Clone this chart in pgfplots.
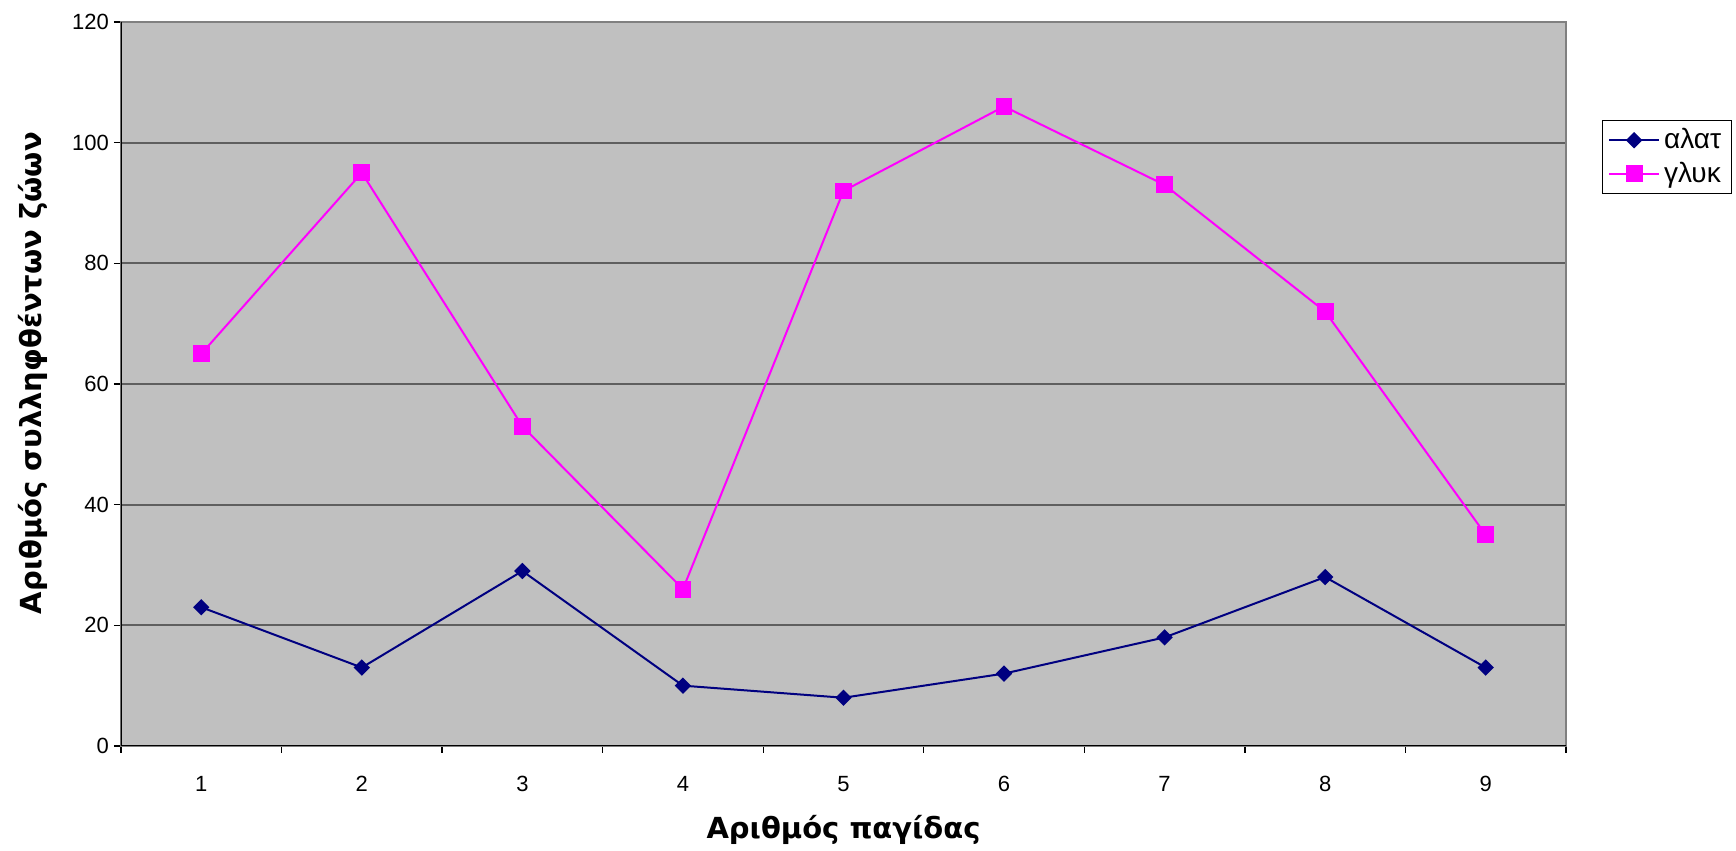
\documentclass[border=0pt]{standalone}
\usepackage{pgfplots}
\pgfplotsset{compat=1.18}
\usepackage{fontspec}
\setmainfont{Liberation Sans}
\newfontfamily\labelfont{DejaVu Sans}

\definecolor{plotbg}{RGB}{192,192,192}
\definecolor{navyline}{RGB}{0,0,128}
\definecolor{magline}{RGB}{255,0,255}
\definecolor{gridgray}{RGB}{95,95,95}
\definecolor{framegray}{RGB}{128,128,128}

\begin{document}
\begin{tikzpicture}[x=1pt,y=1pt]
\useasboundingbox (-60.5,-52.5) rectangle (807.5,373);
\begin{axis}[
  at={(0,0)}, anchor=south west,
  scale only axis, width=722.5pt, height=362pt,
  xmin=0.5, xmax=9.5, ymin=0, ymax=120,
  xtick={1,...,9},
  minor xtick={0.5,1.5,...,9.5},
  major x tick style={draw=none},
  minor x tick style={black, line width=0.7pt},
  ytick={0,20,...,120},
  y tick style={black, line width=0.7pt},
  tick pos=left,
  tick align=outside,
  major tick length=3.5pt, minor tick length=3.5pt,
  ymajorgrids,
  grid style={gridgray, line width=0.9pt},
  axis line style={framegray, line width=1pt},
  axis background/.style={fill=plotbg},
  /pgf/number format/assume math mode=true,
  ticklabel style={font=\fontsize{11}{13}\selectfont, black},
  xticklabel style={yshift=-8pt},
  yticklabel style={xshift=1pt},
  xlabel={\labelfont\bfseries Αριθμός παγίδας},
  ylabel={\labelfont\bfseries Αριθμός συλληφθέντων ζώων},
  xlabel style={at={(axis description cs:0.5,-0.116)}, anchor=center,
    font=\fontsize{14.5}{17}\selectfont},
  ylabel style={at={(axis description cs:-0.0609,0.515)}, anchor=center,
    font=\fontsize{14.5}{17}\selectfont},
  legend style={at={(1.0246,0.8646)}, anchor=north west, draw=black,
    line width=0.6pt, fill=white,
    font=\fontsize{14}{16}\selectfont,
    inner xsep=3pt, inner ysep=2pt, row sep=1pt},
  legend cell align=left,
  legend image code/.code={%
    \draw[#1, mark repeat=2, mark phase=2]
      plot coordinates {(0pt,0pt) (12.5pt,0pt) (25pt,0pt)};},
]
\addplot[navyline, line width=1pt, mark=square*, mark size=2.4pt,
  mark options={solid, rotate=45}]
  coordinates {(1,23) (2,13) (3,29) (4,10) (5,8) (6,12) (7,18) (8,28) (9,13)};
\addlegendentry{αλατ}
\addplot[magline, line width=1pt, mark=square*, mark size=3.7pt,
  mark options={solid}]
  coordinates {(1,65) (2,95) (3,53) (4,26) (5,92) (6,106) (7,93) (8,72) (9,35)};
\addlegendentry{γλυκ}
\draw[black, line width=1pt] (rel axis cs:0,1) -- (rel axis cs:0,0) -- (rel axis cs:1,0);
\end{axis}
\end{tikzpicture}
\end{document}
